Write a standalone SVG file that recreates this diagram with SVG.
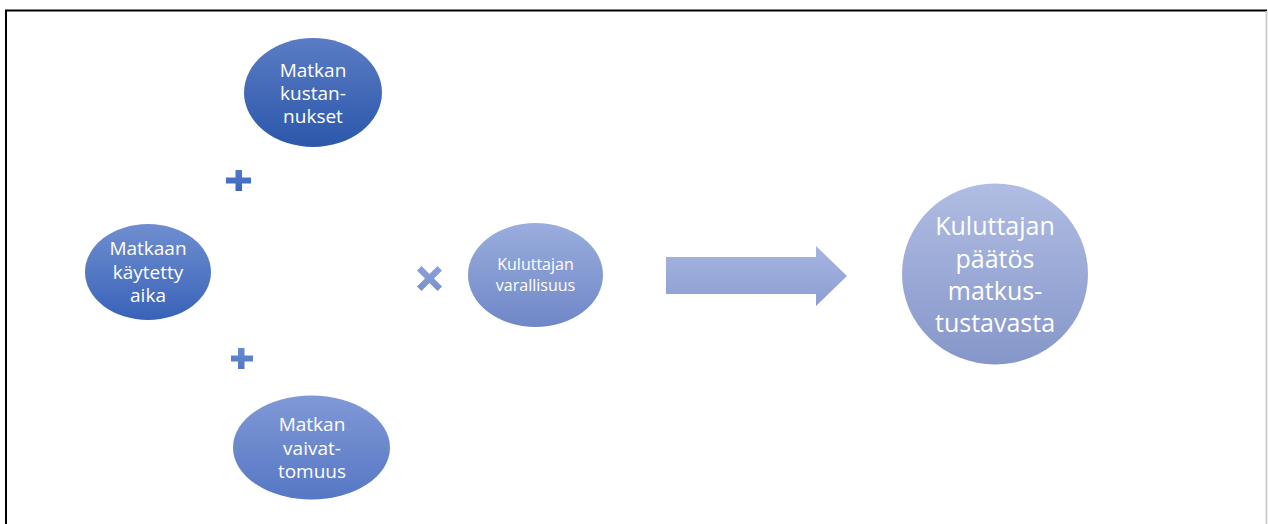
<svg xmlns="http://www.w3.org/2000/svg" width="1268" height="524" viewBox="0 0 1268 524">
<style>
  .t { font-family: "Open Sans", "Liberation Sans", sans-serif; fill: #ffffff; text-anchor: middle; }
  .m { font-size: 19px; }
  .s { font-size: 16px; }
  .l { font-size: 25px; }
</style>
<defs>
  <linearGradient id="g1" x1="0" y1="0" x2="0" y2="1"><stop offset="0" stop-color="#5a7cc4"/><stop offset="1" stop-color="#2c57ab"/></linearGradient>
  <linearGradient id="g2" x1="0" y1="0" x2="0" y2="1"><stop offset="0" stop-color="#6f8ed0"/><stop offset="1" stop-color="#3962b8"/></linearGradient>
  <linearGradient id="g3" x1="0" y1="0" x2="0" y2="1"><stop offset="0" stop-color="#8099d6"/><stop offset="1" stop-color="#5677c4"/></linearGradient>
  <linearGradient id="g4" x1="0" y1="0" x2="0" y2="1"><stop offset="0" stop-color="#9aaddd"/><stop offset="1" stop-color="#6f87c7"/></linearGradient>
  <linearGradient id="g5" x1="0" y1="0" x2="0" y2="1"><stop offset="0" stop-color="#a6b5e0"/><stop offset="1" stop-color="#8c9ed3"/></linearGradient>
  <linearGradient id="g6" x1="0" y1="0" x2="0" y2="1"><stop offset="0" stop-color="#b0bde3"/><stop offset="1" stop-color="#8596c9"/></linearGradient>
  <linearGradient id="gp1" x1="0" y1="0" x2="0" y2="1"><stop offset="0" stop-color="#5279cb"/><stop offset="1" stop-color="#3d66bb"/></linearGradient>
  <linearGradient id="gp2" x1="0" y1="0" x2="0" y2="1"><stop offset="0" stop-color="#6a8bd2"/><stop offset="1" stop-color="#5277c6"/></linearGradient>
  <linearGradient id="gx" x1="0" y1="0" x2="0" y2="1"><stop offset="0" stop-color="#8ba1da"/><stop offset="1" stop-color="#7890d0"/></linearGradient>
</defs>
<rect width="1268" height="524" fill="#ffffff"/>
<g id="frame">
  <path d="M6,524 V10.5 H1267" fill="none" stroke="#000000" stroke-width="2"/>
  <line x1="1266.5" y1="11" x2="1266.5" y2="524" stroke="#cfcfcf" stroke-width="2"/>
</g>
<g id="n-kustannukset">
  <ellipse cx="313" cy="92.5" rx="69" ry="54.5" fill="url(#g1)"/>
  <text class="t m" x="313" y="77">Matkan</text>
  <text class="t m" x="313" y="100">kustan-</text>
  <text class="t m" x="313" y="123">nukset</text>
</g>
<g id="n-aika">
  <ellipse cx="148" cy="272" rx="63" ry="48" fill="url(#g2)"/>
  <text class="t m" x="148" y="255">Matkaan</text>
  <text class="t m" x="148" y="278.5">käytetty</text>
  <text class="t m" x="148" y="302">aika</text>
</g>
<g id="n-vaivattomuus">
  <ellipse cx="311.5" cy="447.5" rx="78.5" ry="52" fill="url(#g3)"/>
  <text class="t m" x="312" y="431">Matkan</text>
  <text class="t m" x="312" y="455">vaivat-</text>
  <text class="t m" x="312" y="478">tomuus</text>
</g>
<g id="n-varallisuus">
  <ellipse cx="535.5" cy="275" rx="67.5" ry="52" fill="url(#g4)"/>
  <text class="t s" x="535.5" y="270">Kuluttajan</text>
  <text class="t s" x="535.5" y="291">varallisuus</text>
</g>
<g id="n-paatos">
  <ellipse cx="995" cy="274" rx="93" ry="90.5" fill="url(#g6)"/>
  <text class="t l" x="995" y="235">Kuluttajan</text>
  <text class="t l" x="995" y="268">päätös</text>
  <text class="t l" x="995" y="300">matkus-</text>
  <text class="t l" x="995" y="332">tustavasta</text>
</g>
<g id="connectors">
  <path d="M666,257 H816 V246 L847,276 L816,306 V294 H666 Z" fill="url(#g5)"/>
  <path d="M235.5,170 H242 V177.5 H251 V183.5 H242 V191 H235.5 V183.5 H226 V177.5 H235.5 Z" fill="url(#gp1)"/>
  <path d="M238,348 H244.5 V355.5 H253 V361.5 H244.5 V369 H238 V361.5 H231 V355.5 H238 Z" fill="url(#gp2)"/>
  <path d="M417,270.5 L421.5,266 L429.5,274 L437.5,266 L442,270.5 L434,278.5 L442,286.5 L437.5,291 L429.5,283 L421.5,291 L417,286.5 L425,278.5 Z" fill="url(#gx)"/>
</g>
</svg>
